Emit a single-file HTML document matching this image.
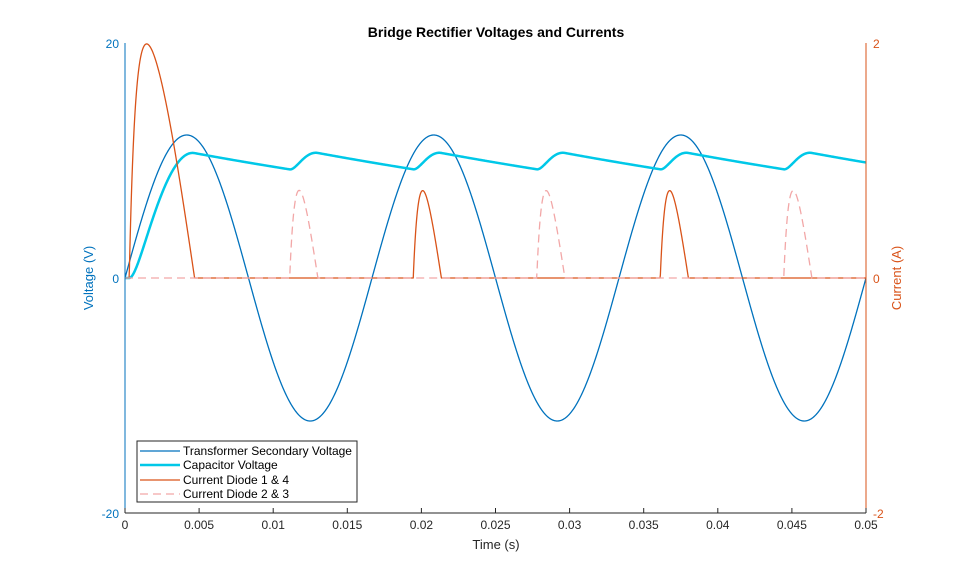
<!DOCTYPE html>
<html><head><meta charset="utf-8"><style>
body{margin:0;background:#fff;}
svg{display:block;font-family:"Liberation Sans",Arial,sans-serif;}
</style></head><body>
<svg id="s" width="959" height="577" viewBox="0 0 959 577" xmlns="http://www.w3.org/2000/svg">
<defs><clipPath id="cp"><rect x="125" y="43" width="741" height="470"/></clipPath></defs>
<rect width="959" height="577" fill="#fff"/>
<text x="496" y="37" text-anchor="middle" font-size="14" font-weight="bold" fill="#000">Bridge Rectifier Voltages and Currents</text>
<g id="plots" clip-path="url(#cp)"></g>
<line x1="125" y1="43" x2="125" y2="513" stroke="#0072BD" stroke-width="1"/>
<line x1="866" y1="43" x2="866" y2="513" stroke="#D95319" stroke-width="1"/>
<line x1="125" y1="513" x2="866" y2="513" stroke="#262626" stroke-width="1"/>
<g id="ticks"></g>
<g font-size="12" fill="#0072BD" text-anchor="end">
<text x="119" y="48">20</text><text x="119" y="283">0</text><text x="119" y="518">-20</text>
</g>
<g font-size="12" fill="#D95319" text-anchor="start">
<text x="873" y="48">2</text><text x="873" y="283">0</text><text x="873" y="518">-2</text>
</g>
<text transform="translate(93,278) rotate(-90)" text-anchor="middle" font-size="13" fill="#0072BD">Voltage (V)</text>
<text transform="translate(901,278) rotate(-90)" text-anchor="middle" font-size="13" fill="#D95319">Current (A)</text>
<text x="496" y="549" text-anchor="middle" font-size="13" fill="#262626">Time (s)</text>
<g id="xl" font-size="12" fill="#262626" text-anchor="middle"></g>
<rect x="137" y="441" width="220" height="61" fill="#fff" stroke="#262626" stroke-width="1"/>
<line x1="140" y1="451" x2="180" y2="451" stroke="#0072BD" stroke-width="1.3"/>
<line x1="140" y1="465" x2="180" y2="465" stroke="#00C8E8" stroke-width="2.5"/>
<line x1="140" y1="480" x2="180" y2="480" stroke="#D95319" stroke-width="1.3"/>
<line x1="140" y1="494" x2="180" y2="494" stroke="#F2A7A7" stroke-width="1.3" stroke-dasharray="8,5"/>
<g font-size="12" fill="#000">
<text x="183" y="455">Transformer Secondary Voltage</text>
<text x="183" y="469">Capacitor Voltage</text>
<text x="183" y="484">Current Diode 1 &amp; 4</text>
<text x="183" y="498">Current Diode 2 &amp; 3</text>
</g>
</svg>
<script>
var NS="http://www.w3.org/2000/svg";
function X(t){return 125+t*14820;}
function YV(v){return 278-v*11.75;}
function YI(i){return 278-i*117.5;}
var xl=document.getElementById('xl'),tk=document.getElementById('ticks');
var labs=["0","0.005","0.01","0.015","0.02","0.025","0.03","0.035","0.04","0.045","0.05"];
for(var k=0;k<=10;k++){var x=X(k*0.005);
var l=document.createElementNS(NS,'line');l.setAttribute('x1',x);l.setAttribute('x2',x);l.setAttribute('y1',513);l.setAttribute('y2',508);l.setAttribute('stroke','#262626');tk.appendChild(l);
var t=document.createElementNS(NS,'text');t.setAttribute('x',x);t.setAttribute('y',529);t.textContent=labs[k];xl.appendChild(t);}
var A=12.17,w=2*Math.PI*60,Vd=1.3,C=0.0005,R=92,Rs=0.8;
var dt=1e-6,vc=0,pv=[],pc=[],p1=[],p2=[];
for(var n=0;n<=50000;n++){var t=n*dt,vs=A*Math.sin(w*t),av=Math.abs(vs);
var i=Math.max(0,(av-Vd-vc)/Rs);
if(n%25==0){pv.push(X(t).toFixed(2)+","+YV(vs).toFixed(2));pc.push(X(t).toFixed(2)+","+YV(vc).toFixed(2));
p1.push(X(t).toFixed(2)+","+YI(vs>0?i:0).toFixed(2));p2.push(X(t).toFixed(2)+","+YI(vs<0?i:0).toFixed(2));}
vc+=(i/C-vc/(R*C))*dt;}
var g=document.getElementById('plots');
function pl(pts,col,w,dash){var p=document.createElementNS(NS,'polyline');p.setAttribute('points',pts.join(' '));p.setAttribute('fill','none');p.setAttribute('stroke',col);p.setAttribute('stroke-width',w);p.setAttribute('stroke-linejoin','round');if(dash)p.setAttribute('stroke-dasharray',dash);g.appendChild(p);}
pl(pv,'#0072BD',1.3);pl(pc,'#00C8E8',2.5);pl(p1,'#D95319',1.3);pl(p2,'#F2A7A7',1.3,'8,5');
</script>
</body></html>
